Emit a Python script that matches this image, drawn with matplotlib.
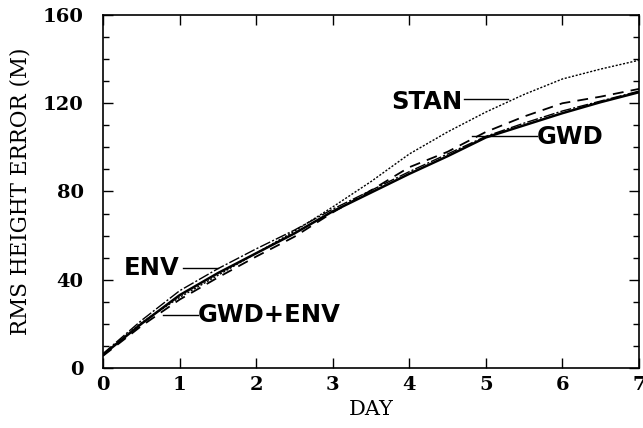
import matplotlib
matplotlib.use('Agg')
import matplotlib.pyplot as plt
from matplotlib.ticker import MultipleLocator

# forecast day
days = [0, 0.5, 1, 1.5, 2, 2.5, 3, 3.5, 4, 4.5, 5, 5.5, 6, 6.5, 7]

# rms height error (m)
gwd = [6, 20, 33, 43, 52, 61, 71, 79.5, 88, 96, 104.5, 110, 115.5, 120.5, 125]
env = [6.5, 21.5, 35, 45, 54, 62.5, 72, 80.5, 89, 97, 105, 111, 116.5, 121, 125.5]
gwd_env = [5.5, 19, 31, 41, 50.5, 59.5, 70.5, 80.5, 91, 98, 107, 114, 120, 123, 126.5]
stan = [6, 20.5, 32, 42, 52, 62, 73, 84.5, 97, 107, 116, 124, 131, 135.5, 139.5]

fig = plt.figure(figsize=(6.43, 4.28), dpi=100)
ax = fig.add_axes([103 / 643, 1 - 368 / 428, 536 / 643, 353 / 428])

ax.plot(days, stan, color='black', lw=1.0, linestyle=(0, (1.5, 1.2)))
ax.plot(days, gwd_env, color='black', lw=1.3, linestyle=(0, (6, 4)))
ax.plot(days, env, color='black', lw=1.0, linestyle=(0, (8, 1.5, 1.5, 1.5)))
ax.plot(days, gwd, color='black', lw=1.8)

ax.set_xlim(0, 7)
ax.set_ylim(0, 160)
ax.xaxis.set_major_locator(MultipleLocator(1))
ax.yaxis.set_major_locator(MultipleLocator(40))
ax.yaxis.set_minor_locator(MultipleLocator(10))
ax.tick_params(which='both', direction='in', top=True, right=True, width=1.0)
ax.tick_params(which='major', length=7)
ax.tick_params(which='minor', length=4)
ax.tick_params(axis='x', which='minor', top=False, bottom=False)
for sp in ax.spines.values():
    sp.set_linewidth(1.2)

for lab in ax.get_xticklabels() + ax.get_yticklabels():
    lab.set_fontfamily('DejaVu Serif')
    lab.set_fontweight('bold')
    lab.set_fontsize(14)
ax.tick_params(axis='x', pad=6)
ax.tick_params(axis='y', pad=14)

ax.set_xlabel('DAY', family='DejaVu Serif', fontsize=15, labelpad=4)
ax.set_ylabel('RMS HEIGHT ERROR (M)', family='DejaVu Serif', fontsize=15.5, labelpad=8)

lab_font = dict(family='DejaVu Sans', weight='bold', fontsize=17.5)
ax.text(4.70, 120.5, 'STAN', ha='right', va='center', **lab_font)
ax.plot([4.72, 5.29], [122, 122], color='black', lw=1.0)
ax.text(5.67, 104.5, 'GWD', ha='left', va='center', **lab_font)
ax.plot([4.82, 5.67], [105, 105], color='black', lw=1.0)
ax.text(1.0, 45.5, 'ENV', ha='right', va='center', **lab_font)
ax.plot([1.05, 1.5], [45.5, 45.5], color='black', lw=1.0)
ax.text(1.24, 24, 'GWD+ENV', ha='left', va='center', **lab_font)
ax.plot([0.78, 1.24], [24, 24], color='black', lw=1.0)

fig.savefig('out.png', dpi=100)
